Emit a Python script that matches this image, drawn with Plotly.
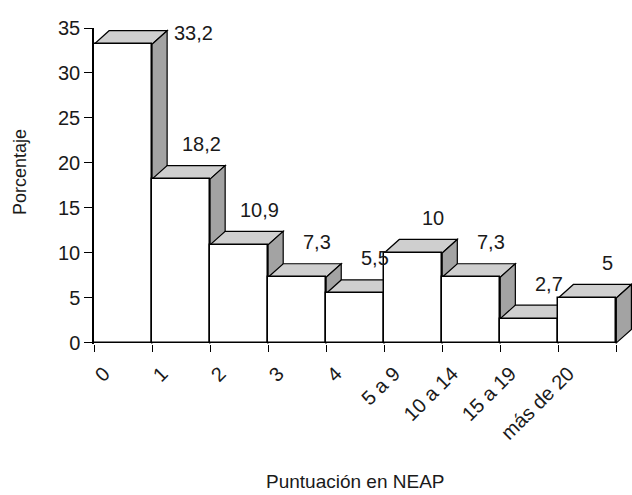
import plotly.graph_objects as go

# ---- data ----
categories = ["0", "1", "2", "3", "4", "5 a 9", "10 a 14", "15 a 19", "más de 20"]
porcentaje = [33.2, 18.2, 10.9, 7.3, 5.5, 10, 7.3, 2.7, 5]
y_ticks = [0, 5, 10, 15, 20, 25, 30, 35]
x_title = "Puntuación en NEAP"
y_title = "Porcentaje"

# ---- style ----
FONT = "Liberation Sans, Arial, Helvetica, sans-serif"
TXT = "#1a1a1a"
DX = 0.26   # depth offset in category units
DY = 1.5    # depth offset in y units
TOP_COL = "#cfcfcf"
SIDE_COL = "#a3a3a3"
YMAX = 35


def fmt(v):
    s = f"{v:.1f}".replace(".", ",")
    return s[:-2] if s.endswith(",0") else s


fig = go.Figure()
fig.add_trace(go.Bar(
    x=categories, y=porcentaje, width=1,
    marker=dict(color="white", line=dict(color="black", width=1.5)),
    hoverinfo="x+y", showlegend=False,
))

shapes = []
for i, v in enumerate(porcentaje):
    x0, x1 = i - 0.5, i + 0.5
    top = (f"M {x0},{v} L {x1},{v} L {x1 + DX},{v + DY} "
           f"L {x0 + DX},{v + DY} Z")
    side = (f"M {x1},0 L {x1 + DX},{DY} L {x1 + DX},{v + DY} "
            f"L {x1},{v} Z")
    shapes.append(dict(type="path", path=top, xref="x", yref="y", layer="below",
                       fillcolor=TOP_COL, line=dict(color="black", width=1.2)))
    shapes.append(dict(type="path", path=side, xref="x", yref="y", layer="below",
                       fillcolor=SIDE_COL, line=dict(color="black", width=1.2)))

annotations = []
for i, v in enumerate(porcentaje):
    if v + DY + 3 > YMAX:
        annotations.append(dict(x=i + 0.5 + DX, y=v + DY, xref="x", yref="y",
                                text=fmt(v), showarrow=False, xanchor="left",
                                yanchor="middle", xshift=5, yshift=-2,
                                font=dict(family=FONT, size=20, color=TXT)))
    else:
        annotations.append(dict(x=categories[i], y=v, xref="x", yref="y",
                                text=fmt(v), showarrow=False, xanchor="center",
                                yanchor="middle", xshift=20, yshift=35,
                                font=dict(family=FONT, size=20, color=TXT)))

annotations.append(dict(x=0, y=19, xref="paper", yref="y", text=y_title,
                        textangle=-90, showarrow=False, xanchor="center",
                        yanchor="middle", xshift=-74,
                        font=dict(family=FONT, size=18, color=TXT)))
annotations.append(dict(x=categories[4], y=0, xref="x", yref="paper", text=x_title,
                        showarrow=False, xanchor="center", yanchor="middle",
                        yshift=-137, font=dict(family=FONT, size=19, color=TXT)))

fig.update_layout(
    width=632, height=495,
    margin=dict(l=94, r=0, t=28, b=151),
    paper_bgcolor="white", plot_bgcolor="white",
    bargap=0, shapes=shapes, annotations=annotations,
    showlegend=False,
)
fig.update_xaxes(
    type="category", range=[-0.5, 8.77], showline=False, showgrid=False,
    zeroline=False, tickson="boundaries", ticks="outside", ticklen=7,
    tickwidth=1.3, tickcolor="black", tickangle=-45, ticklabelshift=-19,
    ticklabelstandoff=13,
    tickfont=dict(family=FONT, size=20, color=TXT),
)
fig.update_yaxes(
    range=[-0.12, YMAX], tickvals=y_ticks, showline=True, linecolor="black",
    linewidth=1.5, showgrid=False, zeroline=False, ticks="outside", ticklen=8,
    tickwidth=1.3, tickcolor="black",
    tickfont=dict(family=FONT, size=20, color=TXT),
)

fig.write_html(
    "out.html",
    config={"displayModeBar": False},
    post_script="document.body.style.margin='0';document.body.style.padding='0';",
)
